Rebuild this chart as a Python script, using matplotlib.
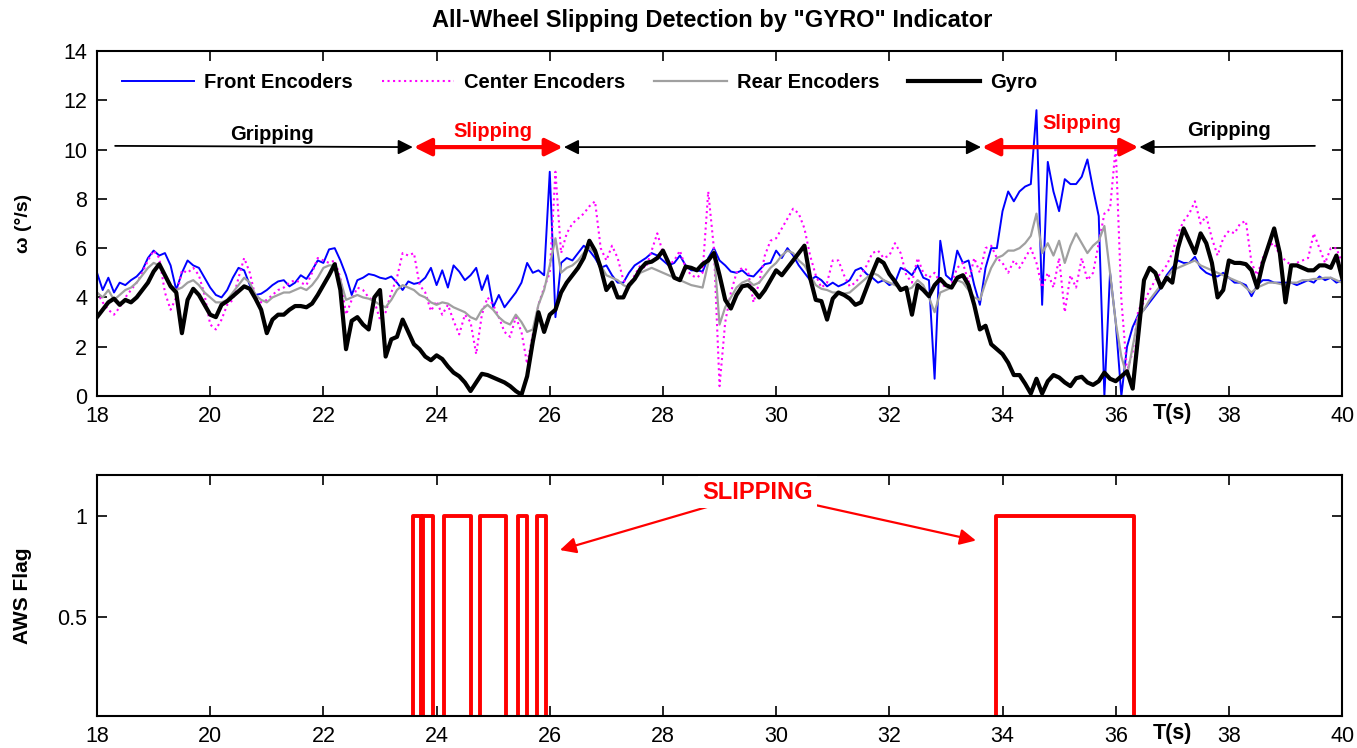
import matplotlib
matplotlib.use("Agg")
import matplotlib.pyplot as plt
import numpy as np

plt.rcParams['font.family'] = ['Liberation Sans', 'DejaVu Sans']

# time base of the encoder / gyro samples (s)
t = np.round(np.linspace(18, 40, 221), 1)

# angular rate of the front encoders (deg/s)
front = [
    5.0, 4.3, 4.8, 4.2, 4.6, 4.5, 4.7, 4.85, 5.1, 5.6,
    5.9, 5.7, 5.8, 5.3, 4.3, 5.0, 5.5, 5.3, 5.2, 4.8,
    4.4, 4.1, 4.0, 4.3, 4.8, 5.2, 5.1, 4.5, 4.1, 4.15,
    4.3, 4.5, 4.65, 4.7, 4.45, 4.6, 4.9, 4.75, 5.1, 5.5,
    5.4, 5.95, 6.0, 5.5, 4.9, 4.1, 4.7, 4.8, 4.95, 4.9,
    4.8, 4.75, 4.85, 4.6, 4.3, 4.65, 4.55, 4.6, 4.8, 5.2,
    4.5, 5.1, 4.4, 5.3, 5.05, 4.7, 4.9, 5.2, 4.3, 4.9,
    3.6, 4.1, 3.6, 3.9, 4.2, 4.6, 5.4, 5.0, 5.1, 4.9,
    9.1, 3.2, 5.4, 5.6, 5.5, 5.8, 6.1, 5.9, 5.6, 5.2,
    5.3, 4.9, 4.6, 4.6, 5.0, 5.3, 5.45, 5.6, 5.8, 5.7,
    5.5, 5.3, 5.4, 5.7, 5.3, 5.1, 5.1, 5.05, 5.6, 6.0,
    5.5, 5.3, 5.05, 5.0, 5.1, 4.9, 4.85, 5.1, 5.35, 5.4,
    5.9, 5.6, 6.0, 5.7, 5.3, 5.0, 4.7, 4.85, 4.7, 4.45,
    4.6, 4.45, 4.55, 4.7, 5.1, 5.2, 4.95, 4.8, 4.6, 4.7,
    4.5, 4.6, 5.2, 5.1, 4.9, 5.3, 4.8, 4.7, 0.7, 6.3,
    4.9, 4.7, 5.9, 5.4, 5.5, 4.5, 3.7, 5.2, 6.0, 6.0,
    7.5, 8.3, 7.9, 8.3, 8.5, 8.6, 11.6, 3.7, 9.5, 8.3,
    7.5, 8.8, 8.6, 8.6, 8.9, 9.6, 8.4, 7.3, 0.0, 5.0,
    3.0, 0.0, 2.0, 2.8, 3.3, 3.5, 3.8, 4.1, 4.4, 4.9,
    5.2, 5.5, 5.4, 5.4, 5.65, 5.2, 5.0, 4.9, 4.85, 5.0,
    4.8, 4.6, 4.6, 4.5, 4.05, 4.5, 4.7, 4.7, 4.6, 4.6,
    4.6, 4.6, 4.5, 4.6, 4.7, 4.6, 4.85, 4.7, 4.8, 4.6,
    4.7,
]

# angular rate of the center encoders (deg/s)
center = [
    4.2, 3.8, 3.5, 3.3, 3.6, 4.0, 4.3, 4.6, 5.0, 5.5,
    5.9, 5.6, 4.2, 3.5, 4.0, 5.1, 5.0, 5.2, 4.9, 4.1,
    2.9, 2.7, 3.1, 3.7, 3.9, 4.8, 5.6, 5.0, 4.0, 3.8,
    3.9, 4.1, 4.3, 4.4, 4.6, 4.7, 4.6, 4.5, 5.0, 5.6,
    5.5, 5.4, 5.5, 4.8, 3.3, 3.9, 4.4, 4.3, 4.0, 3.85,
    3.1, 3.4, 4.2, 4.8, 5.8, 5.7, 5.8, 4.5, 4.2, 3.45,
    3.85, 3.3, 3.7, 3.05, 2.5, 3.3, 3.0, 1.7, 3.3, 4.0,
    3.7, 3.2, 2.6, 2.4, 3.2, 2.6, 1.3, 2.5, 3.7, 4.4,
    5.0, 9.1, 5.8, 6.6, 7.0, 7.2, 7.4, 7.7, 7.9, 6.0,
    5.5, 6.1, 5.6, 4.7, 4.5, 4.9, 5.3, 5.2, 5.9, 6.6,
    5.8, 5.3, 5.5, 5.9, 5.2, 4.9, 4.8, 5.0, 8.3, 6.0,
    0.4, 3.0, 4.2, 5.0, 5.2, 5.1, 3.8, 4.6, 5.7, 6.3,
    6.4, 6.8, 7.2, 7.6, 7.4, 6.8, 5.7, 4.9, 4.4, 4.6,
    5.5, 5.5, 4.9, 4.45, 4.6, 4.9, 5.3, 5.8, 5.9, 5.6,
    5.7, 6.2, 5.8, 4.9, 4.6, 5.6, 5.0, 4.8, 5.0, 4.6,
    4.4, 4.6, 5.2, 5.4, 4.6, 5.6, 5.0, 6.0, 6.1, 5.6,
    5.4, 5.0, 5.5, 5.2, 5.6, 6.0, 5.4, 4.4, 5.0, 4.4,
    5.6, 3.4, 4.9, 4.4, 5.6, 4.7, 5.0, 6.2, 7.4, 7.6,
    10.1, 3.9, 1.0, 1.8, 3.5, 3.8, 4.3, 4.7, 5.0, 5.3,
    5.8, 6.6, 7.1, 7.4, 7.9, 7.0, 7.3, 6.4, 5.7, 6.4,
    6.7, 6.6, 7.0, 7.1, 5.4, 4.9, 5.6, 6.1, 6.2, 5.7,
    5.5, 5.3, 5.4, 5.5, 5.6, 6.6, 6.0, 5.4, 6.0, 6.0,
    5.4,
]

# angular rate of the rear encoders (deg/s)
rear = [
    4.2, 4.0, 4.3, 3.9, 4.1, 4.3, 4.4, 4.6, 4.9, 5.2,
    5.4, 5.3, 4.9, 4.5, 4.3, 4.4, 4.6, 4.7, 4.5, 4.2,
    4.0, 3.8, 3.8, 3.9, 4.2, 4.5, 4.8, 4.6, 4.1, 3.9,
    3.8, 4.0, 4.1, 4.2, 4.2, 4.3, 4.4, 4.3, 4.5, 4.8,
    5.2, 5.3, 5.3, 4.7, 3.9, 4.0, 4.1, 4.0, 3.95, 3.85,
    3.7, 3.6, 3.9, 4.3, 4.5, 4.4, 4.3, 4.1, 4.0, 3.8,
    3.7, 3.8, 3.75, 3.6, 3.5, 3.4, 3.2, 3.1, 3.5, 3.7,
    3.5, 3.2, 3.0, 2.9, 3.3, 3.0, 2.6, 2.7, 3.7, 4.3,
    5.3, 6.4, 5.0, 5.2, 5.3, 5.5, 5.8, 6.0, 5.8, 5.3,
    4.9, 4.8, 4.7, 4.5, 4.4, 4.7, 5.0, 5.1, 5.2, 5.1,
    5.0, 4.9, 4.8, 4.7, 4.6, 4.5, 4.45, 4.4, 5.4, 5.9,
    2.9, 3.6, 4.0, 4.4, 4.6, 4.7, 4.5, 4.6, 4.9, 5.2,
    5.4, 5.7, 5.9, 5.8, 5.5, 5.3, 4.9, 4.5, 4.35, 4.3,
    4.2, 4.2, 4.15, 4.2, 4.4, 4.6, 4.8, 5.0, 4.9, 4.7,
    4.6, 4.5, 4.4, 4.3, 4.4, 4.7, 4.5, 4.0, 3.4, 4.2,
    4.3, 4.4, 4.7, 4.6, 4.3, 4.0, 3.9, 4.6, 5.2, 5.6,
    5.7, 5.9, 5.9, 6.0, 6.2, 6.5, 7.4, 5.8, 6.2, 5.7,
    6.3, 5.4, 6.1, 6.6, 6.2, 5.8, 6.1, 6.3, 6.9, 5.0,
    3.0, 1.6, 0.8, 2.0, 3.2, 3.5, 3.9, 4.2, 4.5, 4.8,
    5.1, 5.2, 5.3, 5.4, 5.5, 5.3, 5.2, 5.1, 5.0, 4.9,
    4.8, 4.7, 4.6, 4.4, 4.2, 4.4, 4.5, 4.6, 4.6, 4.55,
    4.5, 4.6, 4.6, 4.7, 4.7, 4.75, 4.75, 4.8, 4.8, 4.7,
    4.6,
]

# yaw rate measured by the gyro (deg/s)
gyro = [
    3.2, 3.5, 3.8, 3.95, 3.7, 3.9, 3.8, 4.0, 4.3, 4.6,
    5.05, 5.35, 4.9, 4.45, 4.2, 2.55, 3.9, 4.35, 4.1, 3.7,
    3.3, 3.2, 3.7, 3.85, 4.05, 4.25, 4.45, 4.35, 3.95, 3.5,
    2.55, 3.1, 3.3, 3.3, 3.5, 3.65, 3.65, 3.6, 3.75, 4.1,
    4.5, 4.9, 5.35, 4.3, 1.9, 3.05, 3.2, 2.9, 2.7, 4.0,
    4.3, 1.6, 2.3, 2.4, 3.1, 2.6, 2.1, 1.9, 1.6, 1.45,
    1.65, 1.5, 1.2, 0.95, 0.8, 0.55, 0.2, 0.55, 0.9, 0.85,
    0.75, 0.65, 0.55, 0.4, 0.2, 0.05, 0.8, 2.2, 3.4, 2.6,
    3.3, 3.5, 4.2, 4.6, 4.9, 5.2, 5.6, 6.3, 5.9, 5.2,
    4.3, 4.6, 4.0, 4.0, 4.5, 4.75, 5.15, 5.4, 5.45, 5.6,
    5.9, 5.4, 4.8, 4.7, 5.25, 5.2, 5.1, 5.35, 5.5, 5.8,
    4.9, 3.9, 3.55, 4.1, 4.45, 4.5, 4.3, 4.0, 4.3, 4.7,
    5.1, 4.9, 5.2, 5.5, 5.8, 6.1, 4.8, 3.9, 3.85, 3.1,
    3.95, 4.2, 4.1, 3.95, 3.7, 3.8, 4.4, 5.0, 5.55, 5.4,
    4.95, 4.65, 4.3, 4.4, 3.3, 4.5, 4.3, 4.05, 4.5, 4.75,
    4.5, 4.4, 4.8, 4.9, 4.5, 3.7, 2.7, 2.85, 2.1, 1.9,
    1.7, 1.35, 0.85, 0.85, 0.5, 0.1, 0.7, 0.1, 0.6, 0.85,
    0.75, 0.55, 0.4, 0.72, 0.78, 0.55, 0.45, 0.6, 0.95, 0.7,
    0.6, 0.8, 1.0, 0.3, 2.5, 4.7, 5.2, 5.0, 4.4, 4.8,
    4.6, 6.0, 6.8, 6.3, 5.8, 6.6, 6.2, 5.4, 4.0, 4.3,
    5.5, 5.4, 5.4, 5.35, 5.1, 4.4, 5.4, 6.1, 6.8, 5.8,
    3.8, 5.3, 5.3, 5.2, 5.1, 5.1, 5.3, 5.3, 5.2, 5.7,
    4.8,
]

# all-wheel-slip flag: switching instants and the state held after each
flag_t = [18.0, 23.59, 23.72, 23.76, 23.93, 24.13, 24.60, 24.77, 25.22,
          25.43, 25.59, 25.77, 25.93, 33.88, 36.32, 40.0]
flag_v = [0, 1, 0, 1, 0, 1, 0, 1, 0, 1, 0, 1, 0, 1, 0, 0]

xticks = np.arange(18, 41, 2)

fig = plt.figure(figsize=(13.57, 7.48), dpi=100)
ax1 = fig.add_axes([0.0715, 0.4706, 0.9175, 0.4612])
ax2 = fig.add_axes([0.0715, 0.0428, 0.9175, 0.3222])

# ---- top: wheel and gyro rates ----
ax1.plot(t, front, color='#0000ff', lw=1.4, label='Front Encoders')
ax1.plot(t, center, color='#ff00ff', lw=1.5, ls=':', label='Center Encoders')
ax1.plot(t, rear, color='#a0a0a0', lw=1.6, label='Rear Encoders')
ax1.plot(t, gyro, color='black', lw=3.0, label='Gyro')

ax1.set_xlim(18, 40)
ax1.set_ylim(0, 14)
ax1.set_xticks(xticks)
ax1.set_yticks(np.arange(0, 15, 2))
ax1.set_ylabel(u'\u03c9 (\u00b0/s)', fontsize=14, fontweight='bold')
ax1.yaxis.set_label_coords(-0.052, 0.5)

ax1.legend(loc='center left', bbox_to_anchor=(0.020, 12.73 / 14), ncol=4,
           frameon=False, prop={'weight': 'bold', 'size': 14.5},
           handlelength=3.6, handletextpad=0.5, columnspacing=1.42,
           borderpad=0, borderaxespad=0)

# gripping / slipping phases
bold = dict(fontsize=14.5, fontweight='bold')
black_head = dict(arrowstyle='-|>', color='black', lw=1.3,
                  mutation_scale=22, shrinkA=0, shrinkB=0)
both_black = dict(arrowstyle='<|-|>', color='black', lw=1.3,
                  mutation_scale=22, shrinkA=0, shrinkB=0)
red_both = dict(arrowstyle='<|-|>', color='#ff0000', lw=3.0,
                mutation_scale=26, shrinkA=0, shrinkB=0)

ax1.annotate('', xy=(23.58, 10.1), xytext=(18.32, 10.15), arrowprops=black_head)
ax1.annotate('', xy=(23.6, 10.1), xytext=(26.23, 10.1), arrowprops=red_both)
ax1.annotate('', xy=(26.25, 10.1), xytext=(33.62, 10.1), arrowprops=both_black)
ax1.annotate('', xy=(33.64, 10.1), xytext=(36.4, 10.1), arrowprops=red_both)
ax1.annotate('', xy=(36.42, 10.1), xytext=(39.52, 10.15), arrowprops=black_head)

ax1.text(21.1, 10.6, 'Gripping', ha='center', va='center', **bold)
ax1.text(25.0, 10.72, 'Slipping', ha='center', va='center', color='#ff0000', **bold)
ax1.text(35.4, 11.07, 'Slipping', ha='center', va='center', color='#ff0000', **bold)
ax1.text(38.0, 10.79, 'Gripping', ha='center', va='center', **bold)

# ---- bottom: AWS flag ----
ax2.step(flag_t, flag_v, where='post', color='#ff0000', lw=2.8)
ax2.set_xlim(18, 40)
ax2.set_ylim(0.012, 1.2)
ax2.set_xticks(xticks)
ax2.set_yticks([0.5, 1])
ax2.set_yticklabels(['0.5', '1'])
ax2.set_ylabel('AWS Flag', fontsize=15, fontweight='bold')
ax2.yaxis.set_label_coords(-0.052, 0.5)

red_arrow = dict(arrowstyle='-|>', color='#ff0000', lw=1.6,
                 mutation_scale=24, shrinkA=6, shrinkB=0)
ax2.annotate('', xy=(26.18, 0.83), xytext=(29.67, 1.115), arrowprops=red_arrow)
ax2.annotate('', xy=(33.53, 0.877), xytext=(29.67, 1.115), arrowprops=red_arrow)
ax2.text(29.67, 1.115, 'SLIPPING', ha='center', va='center', color='#ff0000',
         fontsize=17, fontweight='bold',
         bbox=dict(facecolor='white', edgecolor='none', pad=3))

for ax in (ax1, ax2):
    ax.tick_params(direction='in', top=True, right=True, length=7, width=1.2,
                   labelsize=15.5)
    ax.tick_params(axis='x', pad=7)
    ax.tick_params(axis='y', pad=7)
    for sp in ax.spines.values():
        sp.set_linewidth(1.5)
    ax.annotate('T(s)', xy=(37, 0), xycoords=('data', 'axes fraction'),
                xytext=(0, -5), textcoords='offset points',
                ha='center', va='top', fontsize=15.5, fontweight='bold')

fig.text(0.525, 0.973, 'All-Wheel Slipping Detection by "GYRO" Indicator',
         ha='center', va='center', fontsize=17, fontweight='bold')

fig.savefig('out.png', dpi=100)
